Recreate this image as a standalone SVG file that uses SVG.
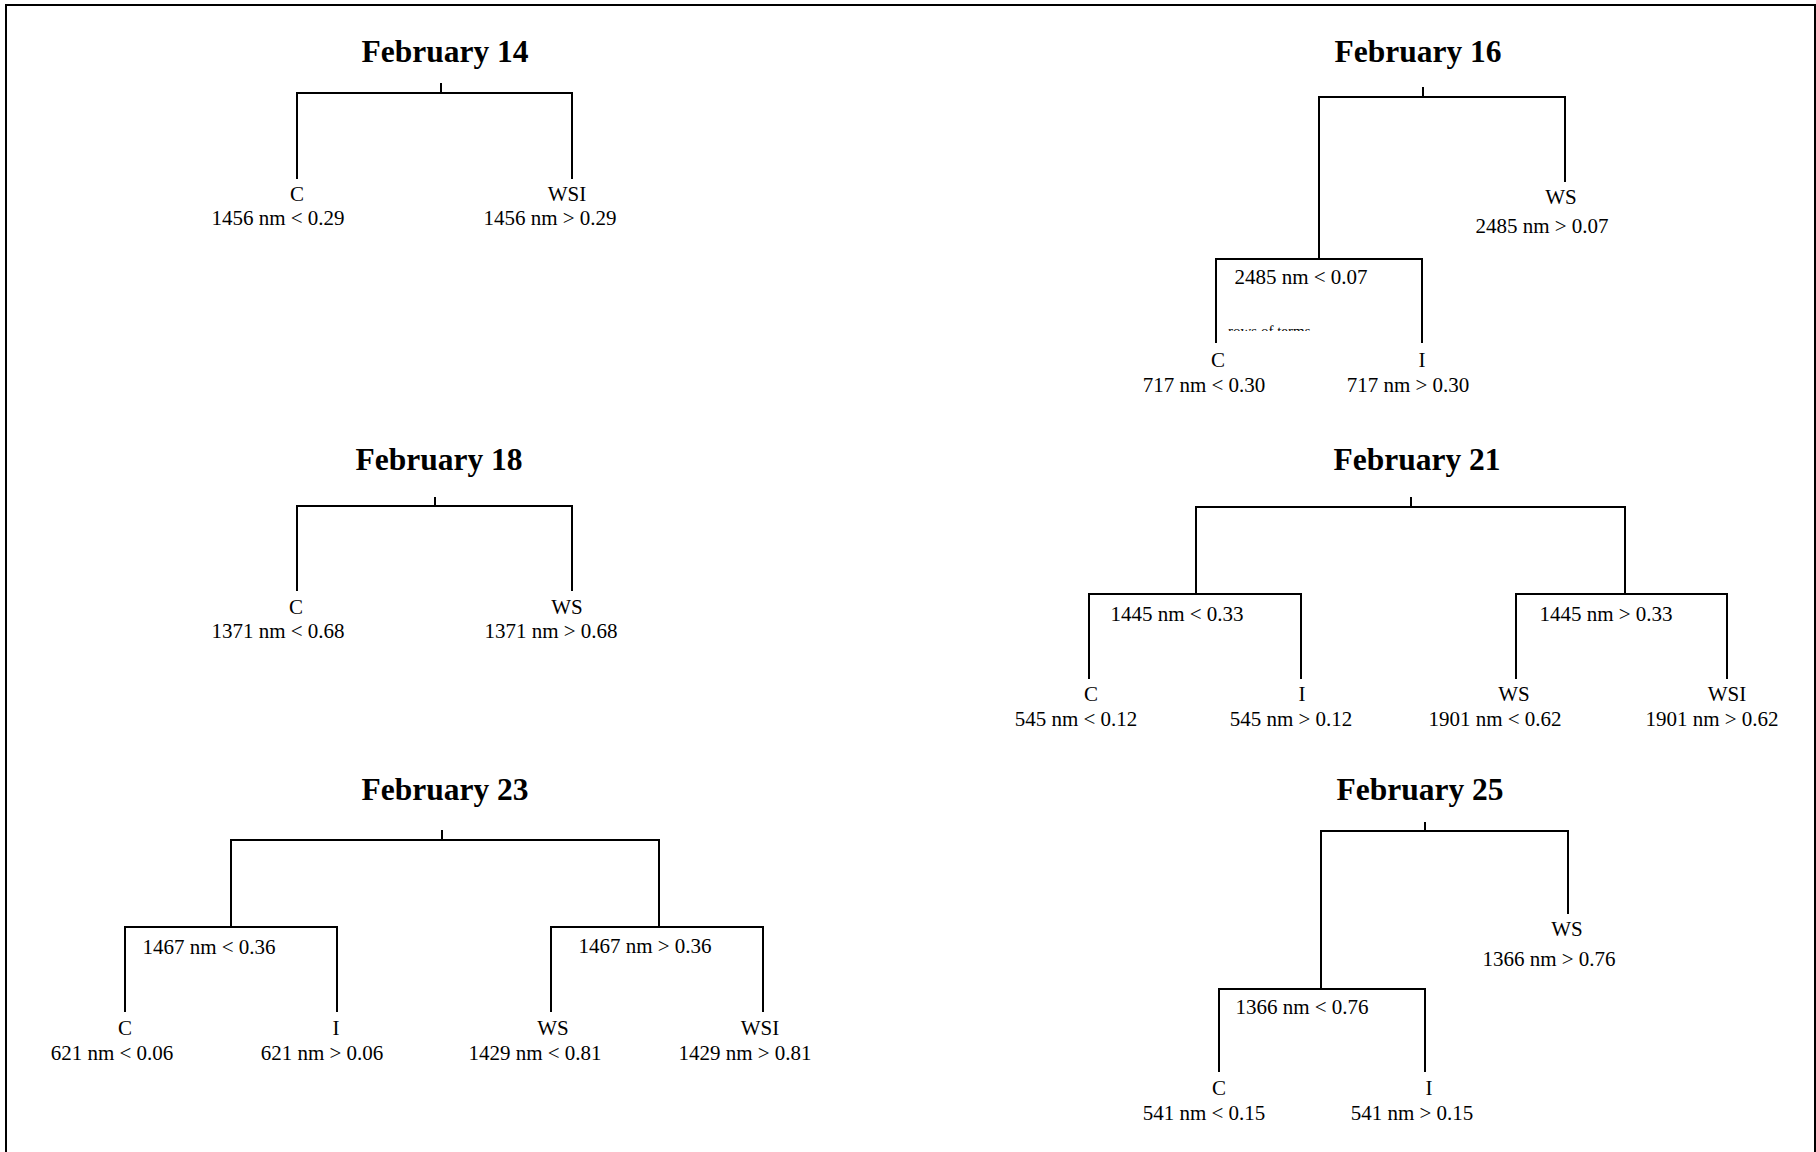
<svg xmlns="http://www.w3.org/2000/svg" width="1816" height="1152" viewBox="0 0 1816 1152">
<style>
.t{font-family:"Liberation Serif","Times New Roman",serif;font-size:31.5px;font-weight:bold;text-anchor:middle;fill:#000}
.l{font-family:"Liberation Serif","Times New Roman",serif;font-size:21px;text-anchor:middle;fill:#000}
.s{font-family:"Liberation Serif","Times New Roman",serif;font-size:15px;fill:#000}
.c{fill:none;stroke:#000;stroke-width:2}
</style>
<defs>
<clipPath id="cut"><rect x="1200" y="300" width="200" height="31"/></clipPath>
</defs>
<rect width="1816" height="1152" fill="#fff"/>
<path class="c" d="M6,1152V5H1815V1152"/>
<g id="connectors">
<path class="c" d="M441,83V93M297,179V93H572V179"/>
<path class="c" d="M1423,87V97M1319,259V97H1565V182M1216,343V259H1422V343"/>
<path class="c" d="M435,497V506M297,591V506H572V591"/>
<path class="c" d="M1411,497V507M1196,594V507H1625V594M1089,679V594H1301V679M1516,679V594H1727V679"/>
<path class="c" d="M442,830V840M231,927V840H659V927M125,1012V927H337V1012M551,1012V927H763V1012"/>
<path class="c" d="M1425,822V831M1321,989V831H1568V914M1219,1072V989H1425V1072"/>
</g>
<g id="feb14">
<g id="feb14-title"><text class="t" x="445" y="62">February 14</text></g>
<g id="feb14-c"><text class="l" x="297" y="201">C</text><text class="l" x="278" y="225">1456 nm &lt; 0.29</text></g>
<g id="feb14-wsi"><text class="l" x="567" y="201">WSI</text><text class="l" x="550" y="225">1456 nm &gt; 0.29</text></g>
</g>
<g id="feb16">
<g id="feb16-title"><text class="t" x="1418" y="62">February 16</text></g>
<g id="feb16-split"><text class="l" x="1301" y="284">2485 nm &lt; 0.07</text><text class="s" x="1228" y="336" clip-path="url(#cut)">rows of terms</text></g>
<g id="feb16-ws"><text class="l" x="1561" y="204">WS</text><text class="l" x="1542" y="233">2485 nm &gt; 0.07</text></g>
<g id="feb16-c"><text class="l" x="1218" y="367">C</text><text class="l" x="1204" y="392">717 nm &lt; 0.30</text></g>
<g id="feb16-i"><text class="l" x="1422" y="367">I</text><text class="l" x="1408" y="392">717 nm &gt; 0.30</text></g>
</g>
<g id="feb18">
<g id="feb18-title"><text class="t" x="439" y="470">February 18</text></g>
<g id="feb18-c"><text class="l" x="296" y="614">C</text><text class="l" x="278" y="638">1371 nm &lt; 0.68</text></g>
<g id="feb18-ws"><text class="l" x="567" y="614">WS</text><text class="l" x="551" y="638">1371 nm &gt; 0.68</text></g>
</g>
<g id="feb21">
<g id="feb21-title"><text class="t" x="1417" y="470">February 21</text></g>
<g id="feb21-left"><text class="l" x="1177" y="621">1445 nm &lt; 0.33</text></g>
<g id="feb21-right"><text class="l" x="1606" y="621">1445 nm &gt; 0.33</text></g>
<g id="feb21-c"><text class="l" x="1091" y="701">C</text><text class="l" x="1076" y="726">545 nm &lt; 0.12</text></g>
<g id="feb21-i"><text class="l" x="1302" y="701">I</text><text class="l" x="1291" y="726">545 nm &gt; 0.12</text></g>
<g id="feb21-ws"><text class="l" x="1514" y="701">WS</text><text class="l" x="1495" y="726">1901 nm &lt; 0.62</text></g>
<g id="feb21-wsi"><text class="l" x="1727" y="701">WSI</text><text class="l" x="1712" y="726">1901 nm &gt; 0.62</text></g>
</g>
<g id="feb23">
<g id="feb23-title"><text class="t" x="445" y="800">February 23</text></g>
<g id="feb23-left"><text class="l" x="209" y="954">1467 nm &lt; 0.36</text></g>
<g id="feb23-right"><text class="l" x="645" y="953">1467 nm &gt; 0.36</text></g>
<g id="feb23-c"><text class="l" x="125" y="1035">C</text><text class="l" x="112" y="1060">621 nm &lt; 0.06</text></g>
<g id="feb23-i"><text class="l" x="336" y="1035">I</text><text class="l" x="322" y="1060">621 nm &gt; 0.06</text></g>
<g id="feb23-ws"><text class="l" x="553" y="1035">WS</text><text class="l" x="535" y="1060">1429 nm &lt; 0.81</text></g>
<g id="feb23-wsi"><text class="l" x="760" y="1035">WSI</text><text class="l" x="745" y="1060">1429 nm &gt; 0.81</text></g>
</g>
<g id="feb25">
<g id="feb25-title"><text class="t" x="1420" y="800">February 25</text></g>
<g id="feb25-split"><text class="l" x="1302" y="1014">1366 nm &lt; 0.76</text></g>
<g id="feb25-ws"><text class="l" x="1567" y="936">WS</text><text class="l" x="1549" y="966">1366 nm &gt; 0.76</text></g>
<g id="feb25-c"><text class="l" x="1219" y="1095">C</text><text class="l" x="1204" y="1120">541 nm &lt; 0.15</text></g>
<g id="feb25-i"><text class="l" x="1429" y="1095">I</text><text class="l" x="1412" y="1120">541 nm &gt; 0.15</text></g>
</g>
</svg>
